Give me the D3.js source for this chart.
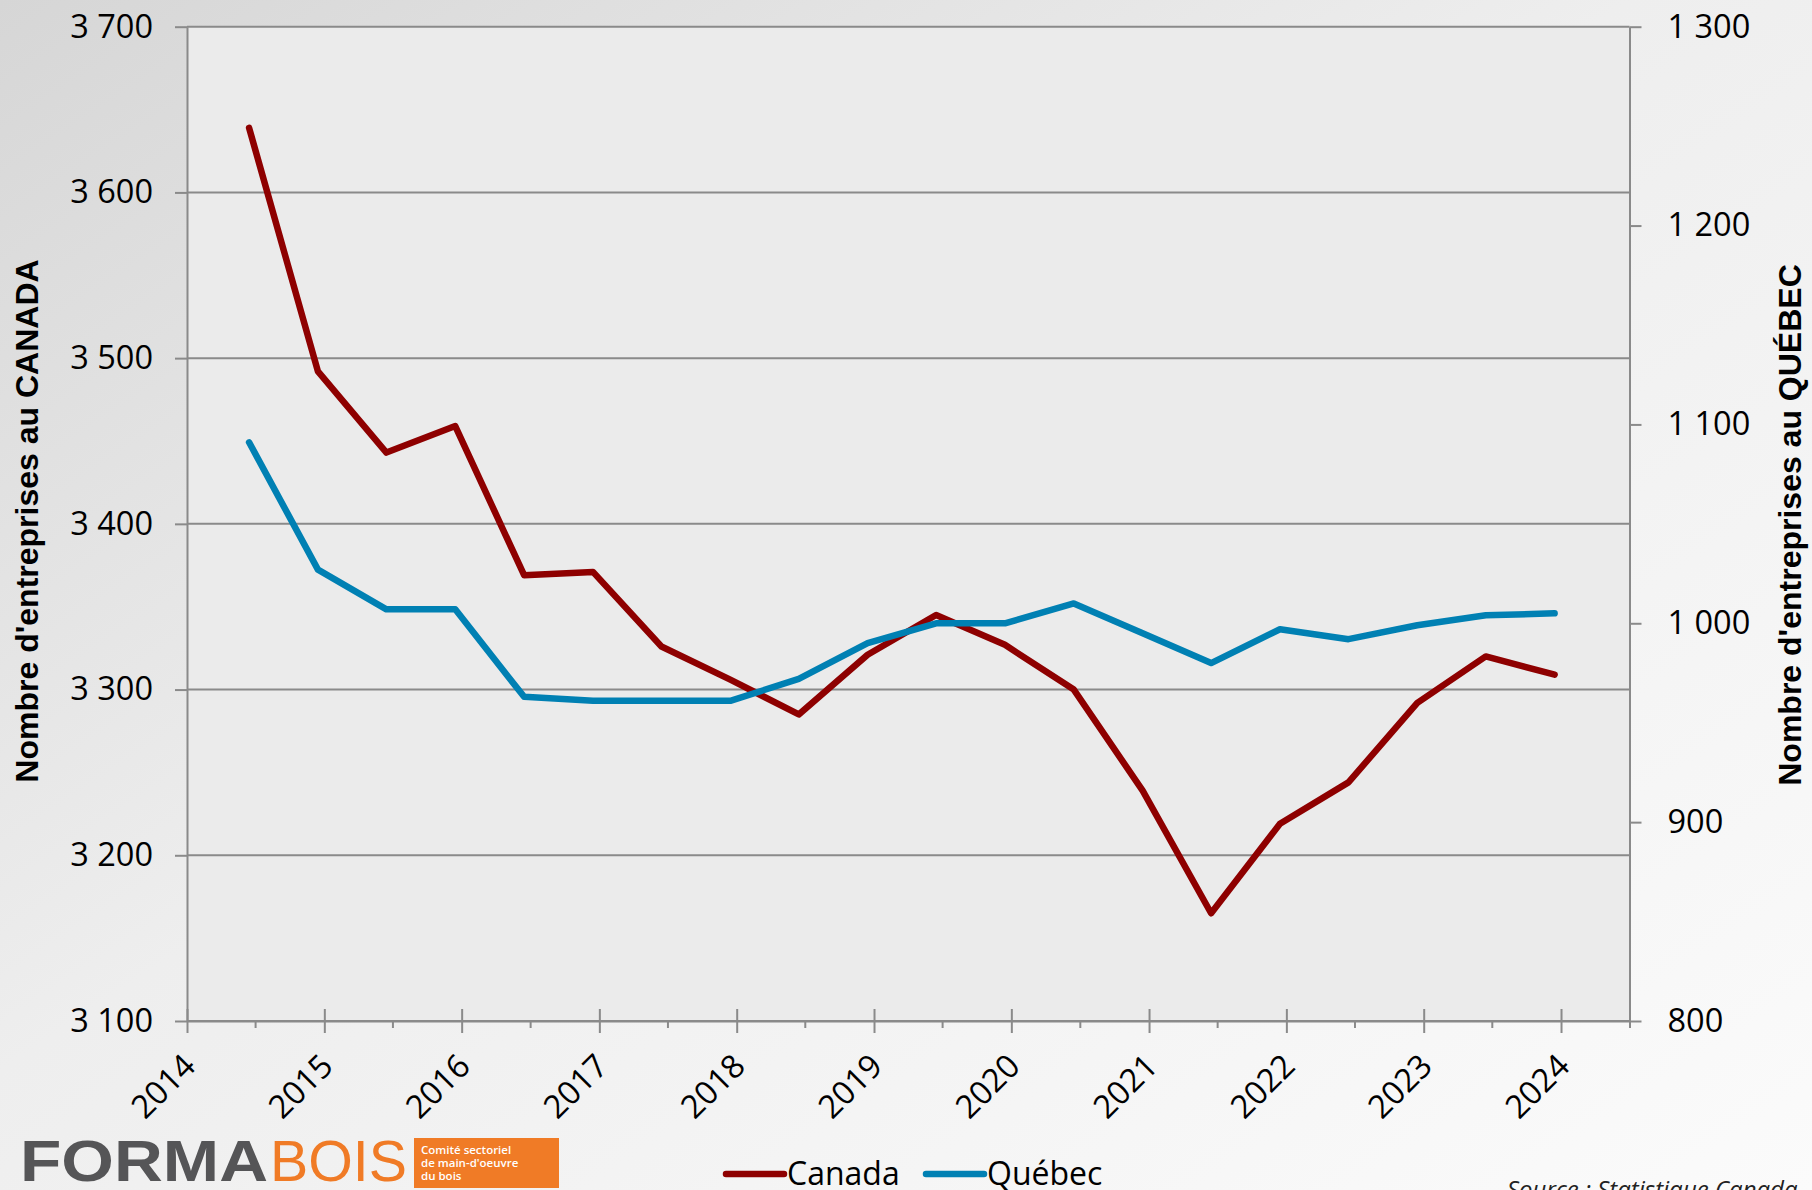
<!DOCTYPE html>
<html><head><meta charset="utf-8">
<script src="https://cdn.jsdelivr.net/npm/d3@7"></script>
<style>body{margin:0;overflow:hidden;background:#fff} svg{display:block}</style>
</head><body>
<svg id="chart" width="1812" height="1190"></svg>
<script>
// ---- data ----
const dates = ["2014-06-15","2014-12-15","2015-06-15","2015-12-15","2016-06-15","2016-12-15",
  "2017-06-15","2017-12-15","2018-06-15","2018-12-15","2019-06-15","2019-12-15",
  "2020-06-15","2020-12-15","2021-06-15","2021-12-15","2022-06-15","2022-12-15",
  "2023-06-15","2023-12-15"];
const canada = [3639,3492,3443,3459,3369,3371,3326,3306,3285,3321,3345,3327,3300,3239,3165,3219,3244,3292,3320,3309];
const quebec = [1091,1027,1007,1007,963,961,961,961,972,990,1000,1000,1010,995,980,997,992,999,1004,1005];
const leftTicks = [3100,3200,3300,3400,3500,3600,3700];
const rightTicks = [800,900,1000,1100,1200,1300];
const yearTicks = [2014,2015,2016,2017,2018,2019,2020,2021,2022,2023,2024];
const halfYearTicks = [2014,2015,2016,2017,2018,2019,2020,2021,2022,2023,2024];
const seriesNames = ["Canada","Québec"];
const seriesColors = ["#8e0000","#0080b3"];
const leftTitle = "Nombre d'entreprises au CANADA";
const rightTitle = "Nombre d'entreprises au QUÉBEC";
const sourceText = "Source : Statistique Canada";
const logoWords = ["FORMA","BOIS"];
const logoTagline = ["Comité sectoriel","de main-d'oeuvre","du bois"];

// ---- layout ----
const svg = d3.select("#chart");
const L = 187, R = 1629.5, T = 26.7, B = 1021;
const parse = d3.timeParse("%Y-%m-%d");
const x = d3.scaleTime().domain([new Date(2014,0,1), new Date(2024,6,1)]).range([L, R]);
const yL = d3.scaleLinear().domain([3100,3700]).range([B, T]);
const yR = d3.scaleLinear().domain([800,1300]).range([B, T]);
const fmt = v => d3.format(",")(v).replace(/,/g, "\u00a0");

// background
const defs = svg.append("defs");
const g1 = defs.append("linearGradient").attr("id","bg").attr("x1","0").attr("y1","0").attr("x2","1").attr("y2","1");
g1.append("stop").attr("offset","0").attr("stop-color","#d6d6d6");
g1.append("stop").attr("offset","0.45").attr("stop-color","#eeeeee");
g1.append("stop").attr("offset","1").attr("stop-color","#fbfbfb");
svg.append("rect").attr("width",1812).attr("height",1190).attr("fill","url(#bg)");

// plot area
svg.append("rect").attr("x",L).attr("y",T).attr("width",R-L).attr("height",B-T).attr("fill","#ebebeb");

const gridColor = "#8a8a8a";
// gridlines
svg.append("g").selectAll("line").data(leftTicks).join("line")
  .attr("x1",L).attr("x2",R).attr("y1",d=>yL(d)).attr("y2",d=>yL(d))
  .attr("stroke",gridColor).attr("stroke-width",2);

// left axis
const axL = svg.append("g").attr("transform",`translate(${L},0)`)
  .call(d3.axisLeft(yL).tickValues(leftTicks).tickSize(12).tickSizeOuter(0).tickPadding(22).tickFormat(fmt));
axL.select(".domain").attr("stroke",gridColor).attr("stroke-width",2);
axL.selectAll(".tick line").attr("stroke",gridColor).attr("stroke-width",2);
axL.selectAll("text").attr("font-family","'Open Sans'").attr("font-size",32.5).attr("fill","#000");

// right axis
const axR = svg.append("g").attr("transform",`translate(${R},0)`)
  .call(d3.axisRight(yR).tickValues(rightTicks).tickSize(12).tickSizeOuter(0).tickPadding(26).tickFormat(fmt));
axR.select(".domain").attr("stroke",gridColor).attr("stroke-width",2);
axR.selectAll(".tick line").attr("stroke",gridColor).attr("stroke-width",2);
axR.selectAll("text").attr("font-family","'Open Sans'").attr("font-size",32.5).attr("fill","#000");

// x axis - minor ticks (half years)
const axXm = svg.append("g").attr("transform",`translate(0,${B})`)
  .call(d3.axisBottom(x).tickValues(halfYearTicks.map(y=>new Date(y,6,1))).tickSize(7).tickSizeOuter(0).tickFormat(""));
axXm.select(".domain").remove();
axXm.selectAll(".tick line").attr("stroke",gridColor).attr("stroke-width",2);

// x axis - major ticks
const axX = svg.append("g").attr("transform",`translate(0,${B})`)
  .call(d3.axisBottom(x).tickValues(yearTicks.map(y=>new Date(y,0,1))).tickSize(12).tickSizeOuter(0).tickFormat(d3.timeFormat("%Y")));
axX.select(".domain").attr("stroke",gridColor).attr("stroke-width",2);
axX.selectAll(".tick line").attr("stroke",gridColor).attr("stroke-width",2).attr("y1",-12).attr("y2",12);
axX.selectAll("text").attr("font-family","'Open Sans'").attr("font-size",32.5).attr("fill","#000")
  .attr("text-anchor","end").attr("y",0).attr("dy",0).attr("transform","translate(10,47) rotate(-45)");

// lines
const pts = dates.map(parse);
const lineL = d3.line().x((d,i)=>x(pts[i])).y(d=>yL(d));
const lineR = d3.line().x((d,i)=>x(pts[i])).y(d=>yR(d));
svg.append("path").datum(canada).attr("d",lineL).attr("fill","none")
  .attr("stroke",seriesColors[0]).attr("stroke-width",6.5).attr("stroke-linejoin","round").attr("stroke-linecap","round");
svg.append("path").datum(quebec).attr("d",lineR).attr("fill","none")
  .attr("stroke",seriesColors[1]).attr("stroke-width",6.5).attr("stroke-linejoin","round").attr("stroke-linecap","round");

// axis titles
svg.append("text").attr("transform","translate(38,521) rotate(-90)").attr("text-anchor","middle")
  .attr("font-family","'Liberation Sans', Arial, sans-serif").attr("font-weight","bold").attr("font-size",32).attr("fill","#000")
  .text(leftTitle);
svg.append("text").attr("transform","translate(1801,525) rotate(-90)").attr("text-anchor","middle")
  .attr("font-family","'Liberation Sans', Arial, sans-serif").attr("font-weight","bold").attr("font-size",32).attr("fill","#000")
  .text(rightTitle);

// legend
const legX = [726, 926];
const leg = svg.append("g");
seriesNames.forEach((n,i)=>{
  leg.append("line").attr("x1",legX[i]).attr("x2",legX[i]+58).attr("y1",1174).attr("y2",1174)
    .attr("stroke",seriesColors[i]).attr("stroke-width",6.5).attr("stroke-linecap","round");
  leg.append("text").attr("x",legX[i]+61).attr("y",1185).attr("font-family","'Open Sans'").attr("font-size",32).attr("fill","#000").text(n);
});

// source
svg.append("text").attr("x",1507).attr("y",1198).attr("font-family","'Open Sans'").attr("font-style","italic")
  .attr("font-size",24).attr("fill","#222").text(sourceText);

// logo
svg.append("text").attr("x",20).attr("y",1181).attr("font-family","'Liberation Sans', Arial, sans-serif").attr("font-weight","bold")
  .attr("font-size",57).attr("fill","#555557").attr("textLength",248).attr("lengthAdjust","spacingAndGlyphs").text(logoWords[0]);
svg.append("text").attr("x",270).attr("y",1181).attr("font-family","'Liberation Sans', Arial, sans-serif")
  .attr("font-size",57).attr("fill","#f07b26").attr("textLength",137).attr("lengthAdjust","spacingAndGlyphs").text(logoWords[1]);
svg.append("rect").attr("x",414).attr("y",1138).attr("width",145).attr("height",50).attr("fill","#f07b26");
logoTagline.forEach((t,i)=>{
  svg.append("text").attr("x",421).attr("y",1154+i*13).attr("font-family","'Open Sans'").attr("font-weight","600")
    .attr("font-size",11.5).attr("fill","#fff").text(t);
});
</script>
</body></html>
